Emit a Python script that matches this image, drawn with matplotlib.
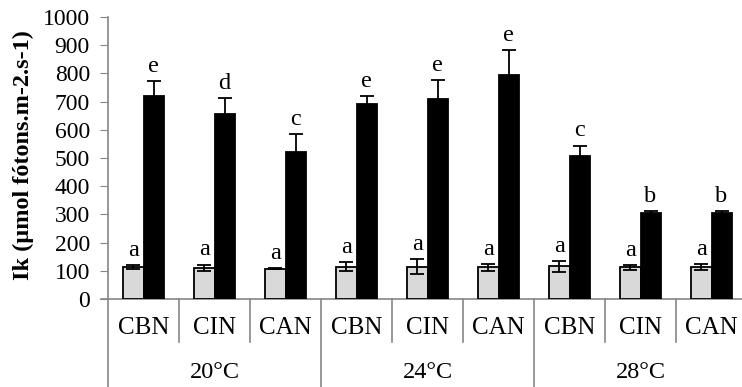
import numpy as np
import matplotlib
matplotlib.use("Agg")
import matplotlib.pyplot as plt

# data
temps = ["20°C", "24°C", "28°C"]
treatments = ["CBN", "CIN", "CAN"]
grey_vals = [113, 110, 107, 115, 115, 112, 116, 112, 113]
grey_err = [6, 12, 2, 16, 27, 11, 19, 9, 11]
black_vals = [721, 657, 520, 693, 709, 795, 508, 305, 305]
black_err = [52, 55, 65, 27, 67, 87, 36, 8, 8]
grey_letters = ["a", "a", "a", "a", "a", "a", "a", "a", "a"]
black_letters = ["e", "d", "c", "e", "e", "e", "c", "b", "b"]

plt.rcParams["font.family"] = "Liberation Serif"

fig = plt.figure(figsize=(7.42, 3.87), dpi=100)
# plot area: x from 108 px to 747 px, y0 at 299 px, y1000 at 17 px
ax = fig.add_axes([108/742, (387-299)/387, (747-108)/742, (299-17)/387])

n = len(grey_vals)
x = np.arange(n)
w = 0.282
gray = "#868686"

ax.bar(x - w/2, grey_vals, w, color="#D9D9D9", edgecolor="black", linewidth=1.3,
       yerr=grey_err, capsize=5, error_kw=dict(elinewidth=1.3, capthick=1.3, ecolor="black"), zorder=3)
ax.bar(x + w/2, black_vals, w, color="black", edgecolor="black", linewidth=1.3,
       yerr=black_err, capsize=5, error_kw=dict(elinewidth=1.3, capthick=1.3, ecolor="black"), zorder=3)

for i in range(n):
    ax.text(x[i] - w/2, grey_vals[i] + grey_err[i] + 15, grey_letters[i],
            ha="center", va="bottom", fontsize=17.5)
    ax.text(x[i] + w/2, black_vals[i] + black_err[i] + 15, black_letters[i],
            ha="center", va="bottom", fontsize=17.5)

ax.set_xlim(-0.5, n - 0.5)
ax.set_ylim(0, 1000)
ax.set_yticks(np.arange(0, 1001, 100))
ax.tick_params(axis="y", direction="out", length=6, color=gray, labelsize=17, pad=7)
ax.set_xticks([])
for s in ["top", "right"]:
    ax.spines[s].set_visible(False)
for s in ["left", "bottom"]:
    ax.spines[s].set_color(gray)
    ax.spines[s].set_linewidth(1.2)

# extend baseline slightly left of the y axis
ax.plot([-0.6, -0.5], [0, 0], color=gray, lw=1.2, clip_on=False)

# category labels and separators
trans = ax.get_xaxis_transform()
y_sep = (299-342)/282
y_bot = (299-390)/282
for i in range(n):
    ax.text(x[i], (299-328)/282, treatments[i % 3], transform=trans,
            ha="center", va="center", fontsize=18)
for k in range(n):
    xs = k - 0.5
    yb = y_bot if k % 3 == 0 else y_sep
    ax.plot([xs, xs], [0, yb], color=gray, lw=1.2, transform=trans, clip_on=False)
for g, t in enumerate(temps):
    ax.text(3*g + 1, (299-373)/282, t, transform=trans,
            ha="center", va="center", fontsize=17.5)

fig.text(23/742, (387-155)/387, "Ik (µmol fótons.m-2.s-1)", rotation=90,
         ha="center", va="center", fontsize=17.5, fontweight="bold")

fig.savefig("out.png", dpi=100)
